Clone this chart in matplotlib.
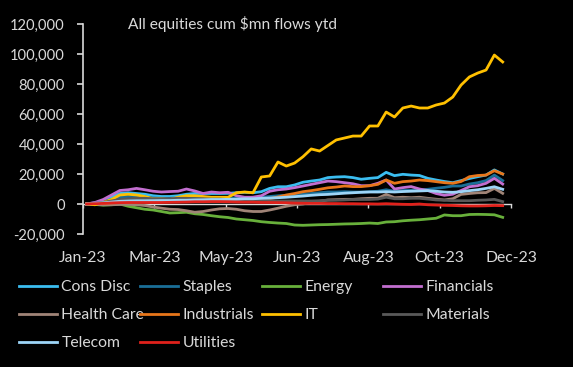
import matplotlib
matplotlib.use("Agg")
import matplotlib.pyplot as plt
import matplotlib.dates as mdates
from matplotlib.ticker import FuncFormatter
import pandas as pd
import numpy as np

plt.rcParams['font.family'] = ['Lato', 'DejaVu Sans']

# weekly observation dates
dates = pd.date_range('2023-01-04', periods=51, freq='7D')

cons_disc = [0, 800, 2000, 4500, 7000, 7500, 7000, 6500, 5500, 5000, 5000, 5500, 6500, 7000, 7000, 7000, 7000,
             7100, 7500, 7800, 7500, 8200, 10400, 11500, 11500, 12700, 14500, 15300, 16000, 17600, 18000, 18200,
             17600, 16500, 17100, 17600, 21100, 18900, 19800, 19300, 19000, 17100, 16000, 15000, 14200, 15600,
             17000, 18200, 19300, 22700, 20000]
staples = [0, 500, 1500, 3000, 4500, 5000, 5000, 4500, 4000, 3800, 3800, 4000, 4200, 4000, 4000, 4000, 4200,
           4000, 4000, 4200, 4500, 4500, 5000, 5500, 5800, 6000, 6500, 7000, 7500, 8000, 8000, 8200, 8000, 8000,
           8200, 8500, 9500, 8500, 9000, 9200, 9500, 9800, 10500, 11100, 12000, 12000, 13300, 14200, 15600,
           19300, 15600]
energy = [0, -300, -800, -500, 0, -1500, -2500, -3500, -4000, -5000, -6000, -5800, -5500, -6500, -7000, -7800,
          -8500, -9000, -10000, -10500, -11000, -11800, -12300, -12700, -13000, -14000, -14200, -14000, -13800,
          -13700, -13500, -13300, -13200, -13000, -12700, -13000, -12000, -11800, -11200, -10800, -10500, -10000,
          -9500, -7300, -7800, -7800, -7000, -6900, -7000, -7200, -8900]
financials = [0, 1000, 3000, 6000, 9000, 9500, 10400, 9500, 8500, 8000, 8300, 8500, 10000, 8700, 7000, 8000,
              7500, 7800, 5500, 4500, 4500, 5500, 8500, 9500, 10000, 10900, 12000, 13100, 14200, 15300, 14900,
              14200, 13500, 12200, 12200, 13800, 16000, 10000, 10900, 11600, 10000, 9000, 7000, 5800, 6500, 9000,
              11500, 12200, 13800, 17100, 13300]
health_care = [0, -300, -500, -500, -300, -200, -500, -1000, -2000, -2800, -3500, -3700, -4500, -5500, -5000,
               -4000, -3200, -3000, -3500, -4500, -5000, -5000, -4000, -2800, -1500, -500, 0, 1100, 1800, 2700,
               2900, 3100, 3100, 3500, 3800, 3800, 6400, 4200, 4500, 4200, 4500, 3800, 3200, 2700, 3500, 6400,
               7000, 7500, 7600, 10400, 7100]
industrials = [0, 200, 500, 800, 1000, 1200, 1500, 1500, 1500, 1800, 2000, 2000, 2200, 2500, 2500, 2700, 2700,
               2500, 2300, 2000, 2300, 2500, 3500, 4700, 6000, 7000, 8200, 8900, 9800, 10800, 11300, 12000, 11600,
               11600, 12200, 13100, 16000, 13800, 14900, 15300, 16000, 15600, 14900, 14200, 13800, 15000, 18200,
               19000, 19300, 22200, 20000]
it = [0, -500, 1000, 3000, 6000, 6500, 6000, 5000, 3500, 3500, 3000, 4500, 5500, 5500, 5000, 4500, 4500, 4500,
      7500, 8000, 7500, 18000, 18700, 28000, 25300, 27300, 31500, 36700, 35300, 39000, 42700, 44000, 45300,
      45300, 52000, 52000, 61300, 58000, 64000, 65300, 64000, 64000, 66000, 67300, 71300, 79300, 84700, 87300,
      89300, 99300, 94700]
materials = [0, 500, 1000, 2000, 3000, 3500, 3800, 3800, 3500, 3500, 3500, 3800, 3800, 3500, 3500, 3300, 3300,
             3000, 2800, 2500, 2500, 2500, 2200, 2000, 2000, 2000, 2000, 2000, 2200, 2500, 2500, 2700, 3000, 3000,
             3000, 3300, 4500, 3500, 3500, 3800, 3800, 3300, 2700, 2500, 2200, 2200, 2200, 2500, 2700, 3100, 1600]
telecom = [0, 300, 800, 1300, 1800, 2000, 2200, 2200, 2200, 2300, 2300, 2500, 2500, 2700, 2800, 3000, 3000,
           3100, 3200, 3500, 3500, 3800, 4000, 4200, 4500, 4900, 5300, 5800, 6200, 6400, 6800, 7200, 7500, 7800,
           8000, 8000, 8200, 8000, 8300, 8500, 8700, 8900, 8500, 8000, 7800, 8200, 8900, 9500, 10400, 11500, 9800]
utilities = [0, 200, 400, 700, 900, 1000, 1000, 1000, 1000, 1000, 1100, 1200, 1300, 1500, 1500, 1600, 1600, 1500,
             1300, 1200, 1200, 1000, 1000, 900, 800, 600, 500, 400, 400, 300, 300, 200, 200, 100, 100, 0, 200, 0,
             -200, -300, 0, -500, -700, -900, -1000, -1200, -1300, -1300, -1200, -1000, -1100]

series_names = ['Cons Disc', 'Staples', 'Energy', 'Financials', 'Health Care', 'Industrials', 'IT',
                'Materials', 'Telecom', 'Utilities']
series_values = [cons_disc, staples, energy, financials, health_care, industrials, it, materials,
                 telecom, utilities]
colors = ['#3BBDF0', '#1A6E97', '#68B03B', '#C26ECF', '#A08477', '#E8761A', '#FFC000', '#595959',
          '#9DD5F7', '#E0211B']

title = 'All equities cum $mn flows ytd'
y_ticks = [-20000, 0, 20000, 40000, 60000, 80000, 100000, 120000]

TXT = '#D9D9D9'
fig = plt.figure(figsize=(5.73, 3.67), dpi=100, facecolor='black')
ax = fig.add_axes([83/573, 1-234/367, (511-83)/573, 210/367], facecolor='black')

handles = {}
for name, vals, c in zip(series_names, series_values, colors):
    ln, = ax.plot(dates, vals, color=c, lw=2.0, solid_joinstyle='round', label=name)
    handles[name] = ln

start = pd.Timestamp('2023-01-01')
end = pd.Timestamp('2023-12-27')
ax.set_xlim(start, end)
ax.set_ylim(-20000, 120000)
ax.set_yticks(y_ticks)
ax.yaxis.set_major_formatter(FuncFormatter(lambda v, p: f'{int(v):,}'))
xt = [start + pd.Timedelta(days=60 * i) for i in range(7)]
ax.set_xticks(xt)
ax.xaxis.set_major_formatter(mdates.DateFormatter('%b-%y'))

for s in ['top', 'right']:
    ax.spines[s].set_visible(False)
ax.spines['bottom'].set_position(('data', 0))
ax.spines['bottom'].set_color('#D9D9D9')
ax.spines['bottom'].set_linewidth(1.0)
ax.spines['bottom'].set_zorder(0.5)
ax.spines['left'].set_color('#D9D9D9')
ax.spines['left'].set_linewidth(1.2)

ax.tick_params(axis='y', colors=TXT, labelsize=10.6, length=4, width=1.2, pad=9)
ax.tick_params(axis='x', colors=TXT, labelsize=11.3, length=3, width=1.0, pad=31)

fig.text(128/573, 1-24/367, title, color=TXT, fontsize=11.2, va='center', ha='left')

# legend: 4 columns, equally spaced
cols = [['Cons Disc', 'Health Care', 'Telecom'],
        ['Staples', 'Industrials', 'Utilities'],
        ['Energy', 'IT'],
        ['Financials', 'Materials']]
col_x = [19, 140, 262, 383]
for cx, names in zip(col_x, cols):
    leg = fig.legend([handles[n] for n in names], names, loc='upper left',
                     bbox_to_anchor=(cx/573, 1-280/367), frameon=False, fontsize=11.3,
                     handlelength=2.45, handletextpad=0.25, borderpad=0, borderaxespad=0,
                     labelspacing=0.9, labelcolor=TXT)

fig.savefig('out.png', dpi=100, facecolor='black')
